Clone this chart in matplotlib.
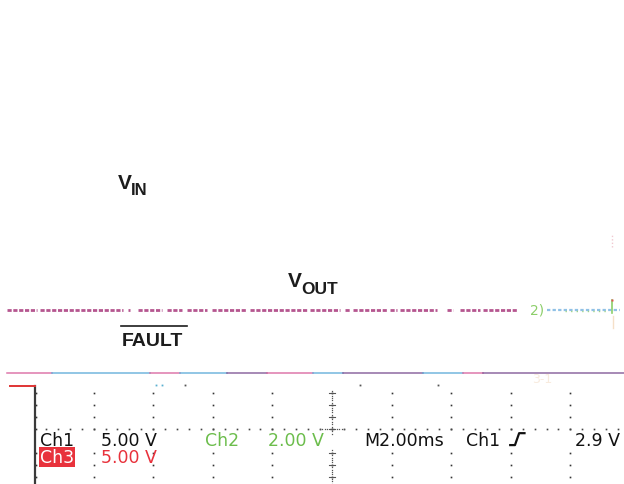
import numpy as np
import matplotlib
matplotlib.use("Agg")
import matplotlib.pyplot as plt

# scope screen geometry, in graticule divisions (origin at centre line / ground line)
DIV_PX = 59.6
X_LEFT, X_RIGHT = -332 / DIV_PX, (624 - 332) / DIV_PX
Y_TOP, Y_BOTTOM = 430 / DIV_PX, (430 - 485) / DIV_PX
SCREEN_TOP = 0.72          # everything above this is blanked

# overlapping VOUT / FAULT trace (div) and the pieces that survive the capture
trace_level = 2.0
trace_pieces = [(-5.45, -4.95), (-4.90, -3.51), (-3.42, -3.39), (-3.26, -2.85),
                (-2.77, -2.52), (-2.43, -2.10), (-2.01, -1.43), (-1.38, -0.42),
                (-0.37, 0.13), (0.22, 0.30), (0.35, 0.92), (0.97, 1.09),
                (1.14, 1.76), (1.93, 2.03), (2.15, 2.48), (2.53, 3.10)]
ch2_pieces = [(3.61, 4.83)]

# the three rails meeting near 0.94 div
rail_level = 0.94
rail_pieces = [(-5.45, -4.70, "pink"), (-4.70, -3.05, "blue"), (-3.05, -2.55, "pink"),
               (-2.55, -1.76, "blue"), (-1.76, -1.09, "purple"), (-1.09, -0.32, "pink"),
               (-0.32, 0.18, "blue"), (0.18, 1.53, "purple"), (1.53, 2.20, "blue"),
               (2.20, 2.53, "pink"), (2.53, 4.90, "purple")]

# readout line
row1 = [("Ch1", -4.90, "k"), ("5.00 V", -3.87, "k"), ("Ch2", -2.13, "g"),
        ("2.00 V", -1.08, "g"), ("M2.00ms", 0.54, "k"), ("Ch1", 2.25, "k"),
        ("2.9 V", 4.08, "k")]
row2 = [("5.00 V", -3.87, "r")]

colors = {"k": "#111111", "g": "#6cbd4c", "r": "#e8323c",
          "pink": "#d8609c", "blue": "#5aaad8", "purple": "#7a4f92"}

fig = plt.figure(figsize=(6.24, 4.85), dpi=100)
ax = fig.add_axes([0, 0, 1, 1])
ax.set_xlim(X_LEFT, X_RIGHT)
ax.set_ylim(Y_BOTTOM, Y_TOP)
ax.axis("off")

# graticule: dotted verticals every division, dots every 0.2 div
minor = np.arange(-0.8, 0.61, 0.2)
minor = minor[np.abs(minor + 0.2) > 0.05]
for gx in range(-4, 5):
    ax.plot(np.full(minor.size, gx), minor, ls="none", marker="s", ms=1.2,
            color="#333333", mec="none")
ax.plot(np.full(minor.size, -4.96), minor, ls="none", marker="s", ms=1.2,
        color="#333333", mec="none")
hx = np.arange(-4.8, 4.9, 0.2)
ax.plot(hx, np.zeros(hx.size), ls="none", marker="s", ms=1.2, color="#444444", mec="none")

# centre line with finer dots and cross ticks
cy = np.arange(-0.92, SCREEN_TOP - 0.05, 0.04)
cy = cy[(cy < -0.33) | (cy > -0.08)]
ax.plot(np.zeros(cy.size), cy, ls="none", marker="s", ms=0.9, color="#555555", mec="none")
for ty in minor:
    ax.plot([-0.05, 0.05], [ty, ty], color="#555555", lw=0.8)
cx = np.arange(-0.2, 0.21, 0.04)
ax.plot(cx, np.zeros(cx.size), ls="none", marker="s", ms=0.9, color="#555555", mec="none")

# left screen border and channel 3 ground marker
ax.plot([-4.98, -4.98], [Y_BOTTOM, SCREEN_TOP], color="#3a3a3a", lw=1.6)
ax.plot([-5.40, -4.98], [SCREEN_TOP, SCREEN_TOP], color="#e03434", lw=1.4)

# small cursor marks on the top edge of the screen
ax.plot([-2.96, -2.86], [SCREEN_TOP + 0.02] * 2, ls="none", marker="s", ms=1.3,
        color="#5ab0d0", mec="none")
ax.plot([-2.47, 0.47, 1.78], [SCREEN_TOP + 0.01] * 3, ls="none", marker="s", ms=1.3,
        color="#555555", mec="none")

# rails
for x0, x1, c in rail_pieces:
    ax.plot([x0, x1], [rail_level, rail_level], color=colors[c], lw=1.1, alpha=0.85)

# VOUT / FAULT trace
for x0, x1 in trace_pieces:
    ax.plot([x0, x1], [trace_level, trace_level], color="#a8387c", lw=2.0,
            ls=(0, (1.5, 0.6)), alpha=0.85, solid_capstyle="butt")
for x0, x1 in ch2_pieces:
    ax.plot([x0, x1], [trace_level, trace_level], color="#7db7e2", lw=1.6,
            ls=(0, (1.5, 1.0)), alpha=0.85)
    ax.plot([x0 + 0.3, x1 - 0.2], [trace_level - 0.02] * 2, color="#8ccc70", lw=1.0,
            ls=(0, (1.0, 3.0)), alpha=0.8)
ax.text(3.32, trace_level, "2)", color="#8cce6a", fontsize=10, va="center", ha="left")
ax.plot([4.69, 4.69], [trace_level - 0.05, trace_level + 0.17], color="#8cce6a", lw=1.2)
ax.plot([4.69], [trace_level + 0.17], marker="s", ms=2, color="#e05050", mec="none")
ax.plot([4.72, 4.72], [trace_level - 0.30, trace_level - 0.10], color="#f5e0c8", lw=1.0)
ax.plot([4.69, 4.69], [3.05, 3.25], color="#f0c8d0", lw=1.0, ls=(0, (1, 1.5)))
ax.text(3.35, 0.85, "3-1", color="#f8ebde", fontsize=9, va="center")

# signal labels
lab = dict(fontfamily="Liberation Sans", fontweight="bold", color="#1c1c1c")
ax.text(-3.59, 4.04, "V", fontsize=15, **lab)
ax.text(-3.37, 3.94, "IN", fontsize=12, **lab)
ax.text(-0.74, 2.40, "V", fontsize=15, **lab)
ax.text(-0.52, 2.28, "OUT", fontsize=12.5, **lab)
ax.text(-3.52, 1.41, "FAULT", fontsize=14, **lab)
ax.plot([-3.54, -2.43], [1.73, 1.73], color="#1c1c1c", lw=1.2)

# readouts
ro = dict(fontfamily="DejaVu Sans", fontsize=12.5, va="baseline", ha="left")
for s, x, c in row1:
    ax.text(x, -0.27, s, color=colors[c], **ro)
for s, x, c in row2:
    ax.text(x, -0.55, s, color=colors[c], **ro)
ax.text(-4.90, -0.55, "Ch3", color="white",
        bbox=dict(boxstyle="square,pad=0.05", fc="#e8323c", ec="none"), **ro)

# rising-edge trigger symbol
ax.plot([2.99, 3.07, 3.14, 3.23], [-0.27, -0.27, -0.07, -0.07], color="#111111", lw=1.6)

fig.savefig("out.png", dpi=100)
